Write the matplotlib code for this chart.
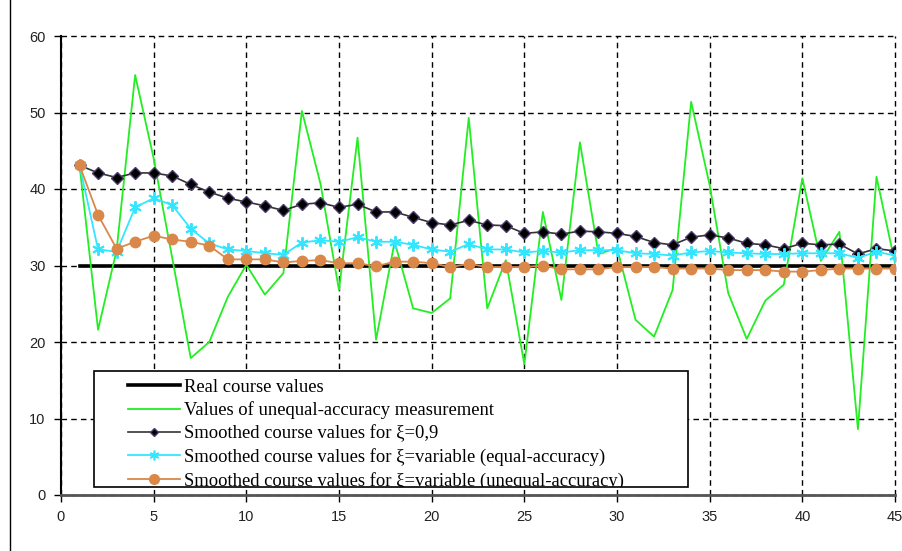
import matplotlib
matplotlib.use("Agg")
import matplotlib.pyplot as plt
from matplotlib import font_manager
from matplotlib.patches import Rectangle
from matplotlib.lines import Line2D

# data
steps = list(range(1, 46))
real_course = [30] * 45
measured = [43.1, 21.6, 32.0, 54.9, 44.0, 31.0, 17.9, 20.0, 25.9, 30.1,
            26.2, 29.0, 50.2, 40.7, 26.8, 46.7, 20.3, 33.1, 24.4, 23.8,
            25.7, 49.3, 24.4, 30.7, 17.1, 37.0, 25.5, 46.1, 31.5, 32.3,
            22.9, 20.7, 26.8, 51.4, 40.5, 26.4, 20.4, 25.4, 27.5, 41.4,
            30.6, 34.4, 8.6, 41.6, 30.3]
smooth_09 = [43.1, 42.1, 41.5, 42.1, 42.1, 41.7, 40.6, 39.6, 38.8, 38.3,
             37.8, 37.2, 38.0, 38.2, 37.6, 38.0, 37.0, 37.0, 36.3, 35.6,
             35.3, 35.9, 35.3, 35.2, 34.2, 34.4, 34.1, 34.5, 34.4, 34.2,
             33.8, 33.0, 32.7, 33.7, 34.0, 33.6, 32.9, 32.7, 32.2, 32.9,
             32.7, 32.8, 31.5, 32.2, 31.9]
smooth_equal = [43.1, 32.1, 31.8, 37.6, 38.8, 37.9, 34.8, 32.9, 32.1, 31.9,
                31.6, 31.4, 33.0, 33.3, 33.1, 33.7, 33.1, 33.1, 32.7, 32.1,
                31.8, 32.8, 32.1, 32.1, 31.7, 31.9, 31.7, 32.0, 32.0, 32.0,
                31.6, 31.5, 31.3, 31.7, 31.9, 31.7, 31.6, 31.5, 31.5, 31.6,
                31.6, 31.6, 31.0, 31.8, 31.3]
smooth_unequal = [43.1, 36.6, 32.2, 33.1, 33.9, 33.4, 33.1, 32.6, 30.8, 30.8,
                  30.8, 30.4, 30.6, 30.7, 30.3, 30.3, 29.9, 30.5, 30.5, 30.3,
                  29.8, 30.2, 29.8, 29.8, 29.8, 30.0, 29.5, 29.5, 29.5, 29.8,
                  29.8, 29.8, 29.6, 29.6, 29.6, 29.4, 29.4, 29.4, 29.2, 29.2,
                  29.4, 29.6, 29.6, 29.6, 29.6]
labels = ["Real course values",
          "Values of unequal-accuracy measurement",
          "Smoothed course values for \u03be=0,9",
          "Smoothed course values for \u03be=variable (equal-accuracy)",
          "Smoothed course values for \u03be=variable (unequal-accuracy)"]

names = {f.name for f in font_manager.fontManager.ttflist}
tick_font = "Liberation Sans Narrow" if "Liberation Sans Narrow" in names else "Liberation Sans"
serif = ["Liberation Serif", "DejaVu Serif"]

fig = plt.figure(figsize=(9.03, 5.51), dpi=100)
ax = fig.add_axes([61 / 903, 1 - 495 / 551, 834 / 903, 459 / 551])

ax.plot(steps, real_course, color="black", lw=2.6, zorder=3)
ax.plot(steps, measured, color="#22EE22", lw=1.3, zorder=4)
ax.plot(steps, smooth_09, color="#333333", lw=1.2, marker="D", ms=6,
        mfc="black", mec="#4B3A6B", mew=1, zorder=5)
ax.plot(steps, smooth_equal, color="#33E6FF", lw=1.3, marker=(6, 2, 0), ms=9,
        mec="#33E6FF", mew=1.4, zorder=5)
ax.plot(steps, smooth_unequal, color="#D9884A", lw=1.3, marker="o", ms=7.5,
        mfc="#D9884A", mec="#D9884A", zorder=6)

ax.set_xlim(0, 45)
ax.set_ylim(0, 60)
ax.set_xticks(range(0, 46, 5))
ax.set_yticks(range(0, 61, 10))
ax.grid(True, color="black", ls=(0, (4, 3)), lw=1)
for gl in ax.get_xgridlines() + ax.get_ygridlines():
    gl.set_clip_on(False)
for s in ["top", "right"]:
    ax.spines[s].set_visible(False)
ax.spines["left"].set_linewidth(1.5)
ax.spines["bottom"].set_linewidth(2)
ax.spines["bottom"].set_color("#555555")
ax.tick_params(length=5, width=1, labelsize=10.5, pad=6)
for lab in ax.get_xticklabels() + ax.get_yticklabels():
    lab.set_family(tick_font)
    lab.set_color("#222222")

# legend box
box = Rectangle((33 / 834, 8 / 459), 594 / 834, 116 / 459, transform=ax.transAxes,
                facecolor="white", edgecolor="black", lw=1.2, zorder=10)
ax.add_patch(box)
handles = [
    Line2D([], [], color="black", lw=2.6),
    Line2D([], [], color="#22EE22", lw=1.3),
    Line2D([], [], color="#333333", lw=1.2, marker="D", ms=4, mfc="black", mec="#4B3A6B"),
    Line2D([], [], color="#33E6FF", lw=1.3, marker=(6, 2, 0), ms=7, mew=1.2),
    Line2D([], [], color="#D9884A", lw=1.3, marker="o", ms=7),
]
leg = ax.legend(handles, labels, loc="upper left",
                bbox_to_anchor=(63 / 834, (495 - 375) / 459),
                frameon=False, prop={"family": serif, "size": 13.4},
                handlelength=2.8, handletextpad=0.25, labelspacing=0.3,
                borderpad=0.2, borderaxespad=0)
leg.set_zorder(11)
# the last row runs past the box bottom and is cut off there, as in the source
for t in leg.get_texts():
    t.set_clip_path(box)

# outer frame line of the screenshot
fig.add_artist(Line2D([10 / 903, 10 / 903], [0, 1], color="black", lw=1))

fig.savefig("out.png", dpi=100)
